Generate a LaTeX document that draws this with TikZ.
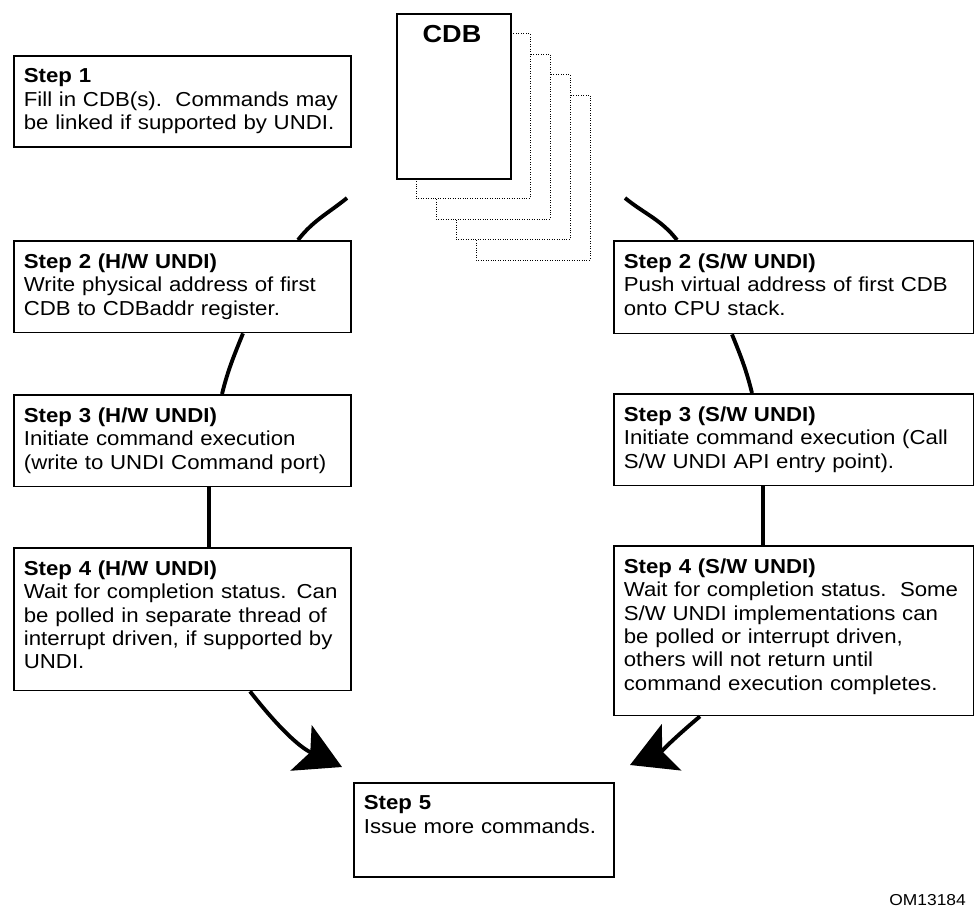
\documentclass[tikz,border=0pt]{standalone}
\usepackage{fontspec}
\setmainfont{Liberation Sans}[FakeStretch=1.1]
\usetikzlibrary{arrows.meta,calc}

\begin{document}
\begin{tikzpicture}[x=0.02cm, y=-0.02cm,
        stepbox/.style={draw, line width=1pt, fill=white, anchor=north west, align=left,
            inner xsep=0.2cm, inner ysep=0.26cm, text width=#1,
            font=\fontsize{11.5}{13.3}\selectfont},
        flow/.style={line width=2.2pt},
        bigtip/.style={-{Stealth[length=0.9cm, width=1cm, inset=0.2cm]}}]
    \useasboundingbox (0,0) rectangle (974,912);
    % stack of CDBs
    \foreach \k in {4,3,2,1} {
        \draw[densely dotted, fill=white] ({396+20*\k},{13+20.5*\k}) rectangle ++(114,165);
    }
    \node[draw, line width=1pt, fill=white, anchor=north west, inner sep=0pt,
        minimum width=2.28cm, minimum height=3.3cm] (cdb) at (396,13) {};
    \node[font=\fontsize{14}{16}\selectfont\bfseries] (cdblbl) at (452,34) {CDB};
    % steps
    \node[stepbox=6.34cm, text depth=1.02cm] (s1) at (13,55)
        {\textbf{Step 1}\\Fill in CDB(s).\ \ Commands may\\be linked if supported by UNDI.};
    \node[stepbox=6.34cm, text depth=1.02cm] (s2hw) at (13,240)
        {\textbf{Step 2 (H/W UNDI)}\\Write physical address of first\\CDB to CDBaddr register.};
    \node[stepbox=6.34cm, text depth=1.02cm] (s3hw) at (13,394)
        {\textbf{Step 3 (H/W UNDI)}\\Initiate command execution\\(write to UNDI Command port)};
    \node[stepbox=6.34cm, text depth=2.04cm] (s4hw) at (13,547)
        {\textbf{Step 4 (H/W UNDI)}\\Wait for completion status. Can\\be polled in separate thread of\\interrupt driven, if supported by\\UNDI.};
    \node[stepbox=6.8cm, text depth=1.04cm] (s2sw) at (613,240)
        {\textbf{Step 2 (S/W UNDI)}\\Push virtual address of first CDB\\onto CPU stack.};
    \node[stepbox=6.8cm, text depth=1.02cm] (s3sw) at (613,393)
        {\textbf{Step 3 (S/W UNDI)}\\Initiate command execution (Call\\S/W UNDI API entry point).};
    \node[stepbox=6.8cm, text depth=2.58cm] (s4sw) at (613,545)
        {\textbf{Step 4 (S/W UNDI)}\\Wait for completion status.\ \ Some\\S/W UNDI implementations can\\be polled or interrupt driven,\\others will not return until\\command execution completes.};
    \node[stepbox=4.8cm, text depth=1.08cm] (s5) at (353,782)
        {\textbf{Step 5}\\Issue more commands.};
    \node[font=\fontsize{9}{10}\selectfont, anchor=base east] (om) at (972,905) {OM13184};
    % loose ends of the cycle
    \coordinate (cdbl) at (347,198);
    \coordinate (cdbr) at (625,198);
    \coordinate (tipl) at (342,767);
    \coordinate (tipr) at (630,765);
    % H/W side
    \draw[flow] (cdbl) to[out=219, in=52] ($(s2hw.north west)+(285,0)$);
    \draw[flow] ($(s2hw.south west)+(230,0)$) to[out=248, in=76] ($(s3hw.north west)+(209,0)$);
    \draw[flow] ($(s3hw.south west)+(196,0)$) -- ($(s4hw.north west)+(196,0)$);
    \draw[flow, bigtip] ($(s4hw.south west)+(237,0)$) to[out=-52, in=155] (tipl);
    % S/W side
    \draw[flow] (cdbr) to[out=-39, in=128] ($(s2sw.north west)+(64,0)$);
    \draw[flow] ($(s2sw.south west)+(119,0)$) to[out=-68, in=104] ($(s3sw.north west)+(139,0)$);
    \draw[flow] ($(s3sw.south west)+(150,0)$) -- ($(s4sw.north west)+(150,0)$);
    \draw[flow, bigtip] ($(s4sw.south west)+(87,0)$) to[out=220, in=23] (tipr);
\end{tikzpicture}
\end{document}
